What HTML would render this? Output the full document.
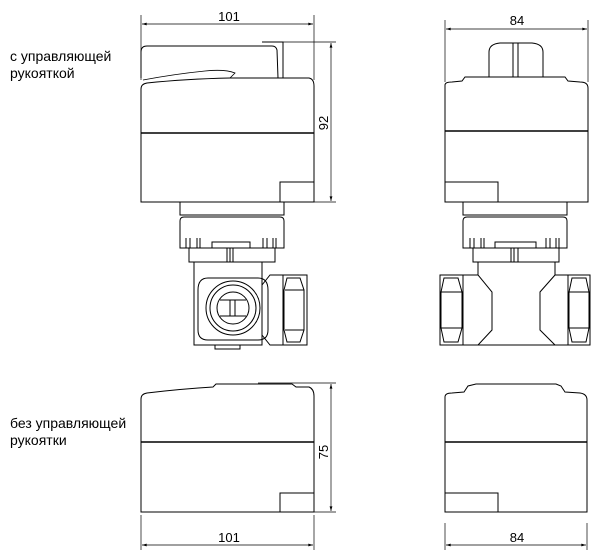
<!DOCTYPE html>
<html><head><meta charset="utf-8"><style>
html,body{margin:0;padding:0;background:#fff}
svg{display:block}
text{font-family:"Liberation Sans","DejaVu Sans",sans-serif;fill:#000}
</style></head><body>
<svg width="611" height="553" viewBox="0 0 611 553" xmlns="http://www.w3.org/2000/svg">
<defs>
<marker id="a" viewBox="0 0 10 6" refX="10" refY="3" markerWidth="7" markerHeight="4" orient="auto-start-reverse"><path d="M0,0 L10,3 L0,6z" fill="#000"/></marker>
</defs>
<g font-size="14">
<text x="10" y="61">с управляющей</text>
<text x="10" y="78">рукояткой</text>
<text x="10" y="428">без управляющей</text>
<text x="10" y="445">рукоятки</text>
</g>
<g fill="none" stroke="#000" stroke-width="1">
<line x1="141" y1="15" x2="141" y2="80" stroke-width="0.7"/>
<line x1="314" y1="15" x2="314" y2="80" stroke-width="0.7"/>
<line x1="142" y1="24" x2="313" y2="24" marker-start="url(#a)" marker-end="url(#a)" stroke-width="0.7"/>
<line x1="262" y1="42" x2="336" y2="42" stroke-width="0.7"/>
<line x1="314" y1="202" x2="336" y2="202" stroke-width="0.7"/>
<line x1="331" y1="43" x2="331" y2="201" marker-start="url(#a)" marker-end="url(#a)" stroke-width="0.7"/>
<path d="M141,78 V52 Q141,46 147,46 H272 Q276,46 277,50 L278,78"/>
<path d="M262,42 H283 V78"/>
<path d="M143,80 Q175,74 205,71 Q225,69 235,73 L230,78" stroke-width="0.8"/>
<path d="M141,202 V89 Q141,84 147,83 Q185,79 230,78 H309 Q314,79 314,86 V202 Z"/>
<line x1="141" y1="133" x2="314" y2="133" stroke-width="1.6"/>
<path d="M280,202 V182 H314"/>
<path d="M180,202 V215 H284 V202"/>
<path d="M180,248 V221 Q180,217 184,217 H280 Q284,217 284,221 V248 Z"/>
<path d="M186,248 V238 M190,248 V238 M197,248 V238 M200,248 V238 M263,248 V238 M267,248 V238 M273,248 V238 M276,248 V238"/>
<path d="M212,248 V242 H250 V248"/>
<rect x="189" y="248" width="86" height="14"/>
<path d="M227,248 V262 M230,248 V262 M233,248 V262"/>
<path d="M194,262 V345 H262 V262"/>
<path d="M262,285 L270,275 H283 M262,335 L270,345 H283"/>
<rect x="283" y="275" width="24" height="70"/>
<path d="M287,278 L300,278 L304,290 L304,330 L300,342 L287,342 L284,330 L284,290 Z"/>
<line x1="285" y1="290" x2="304" y2="290"/><line x1="285" y1="330" x2="304" y2="330"/>
<path d="M208,278 H258 Q268,278 268,290 V330 Q268,340 258,340 H208 Q198,340 198,330 V290 Q198,278 208,278 Z"/>
<circle cx="233" cy="308" r="27"/>
<circle cx="233" cy="308" r="23"/>
<circle cx="233" cy="308" r="16"/>
<path d="M220,300 H246 M220,316 H246 M230,300 V316 M235,300 V316"/>
<path d="M215,345 V349 H240 V345"/>
<line x1="445" y1="20" x2="445" y2="82" stroke-width="0.7"/>
<line x1="588" y1="20" x2="588" y2="82" stroke-width="0.7"/>
<line x1="446" y1="29" x2="587" y2="29" marker-start="url(#a)" marker-end="url(#a)" stroke-width="0.7"/>
<path d="M489,77 V52 Q489,44 500,43 H532 Q543,44 543,52 V77"/>
<path d="M513,43 V77 M518,43 V77"/>
<path d="M445,202 V85 Q445,82 452,82 L462,81 L465,77 H565 L568,81 L580,82 Q588,82 588,88 V202 Z"/>
<line x1="445" y1="131" x2="588" y2="131" stroke-width="1.6"/>
<path d="M445,182 H498 V202"/>
<path d="M463,202 V215 H567 V202"/>
<path d="M463,248 V221 Q463,217 467,217 H563 Q567,217 567,221 V248 Z"/>
<path d="M470,248 V238 M474,248 V238 M481,248 V238 M484,248 V238 M546,248 V238 M550,248 V238 M556,248 V238 M559,248 V238"/>
<path d="M495,248 V242 H536 V248"/>
<rect x="473" y="248" width="86" height="14"/>
<path d="M511,248 V262 M514,248 V262 M518,248 V262"/>
<path d="M478,262 V275 L492,292 V330 L478,345 H555 L540,330 V292 L555,275 V262"/>
<path d="M463,275 H478 M463,345 H478 M555,275 H568 M555,345 H568"/>
<rect x="440" y="275" width="23" height="70"/>
<rect x="568" y="275" width="22" height="70"/>
<path d="M444,278 H458 L462,292 V328 L458,342 H444 L441,328 V292 Z"/>
<path d="M572,278 H586 L589,292 V328 L586,342 H572 L569,328 V292 Z"/>
<path d="M441,292 H462 M441,328 H462 M569,292 H589 M569,328 H589"/>
<line x1="141" y1="515" x2="141" y2="550" stroke-width="0.7"/>
<line x1="314" y1="515" x2="314" y2="550" stroke-width="0.7"/>
<line x1="142" y1="545" x2="313" y2="545" marker-start="url(#a)" marker-end="url(#a)" stroke-width="0.7"/>
<line x1="258" y1="383" x2="336" y2="383" stroke-width="0.7"/>
<line x1="314" y1="512" x2="336" y2="512" stroke-width="0.7"/>
<line x1="331" y1="384" x2="331" y2="511" marker-start="url(#a)" marker-end="url(#a)" stroke-width="0.7"/>
<path d="M141,512 V399 Q141,394 147,393 Q180,389 213,387 L216,384 H292 L296,387 H309 Q314,389 314,396 V512 Z"/>
<line x1="141" y1="442" x2="314" y2="442" stroke-width="1.6"/>
<path d="M280,512 V493 H314"/>
<line x1="445" y1="523" x2="445" y2="550" stroke-width="0.7"/>
<line x1="587" y1="523" x2="587" y2="550" stroke-width="0.7"/>
<line x1="446" y1="545" x2="586" y2="545" marker-start="url(#a)" marker-end="url(#a)" stroke-width="0.7"/>
<path d="M445,512 V397 Q445,393 452,393 L464,392 L468,386 L476,384 H556 L561,386 L565,392 L580,393 Q587,394 587,400 V512 Z"/>
<line x1="445" y1="442" x2="587" y2="442" stroke-width="1.6"/>
<path d="M445,493 H498 V512"/>
</g>
<g font-size="13">
<text x="229" y="21" text-anchor="middle">101</text>
<text x="517" y="25" text-anchor="middle">84</text>
<text x="229" y="542" text-anchor="middle">101</text>
<text x="517" y="542" text-anchor="middle">84</text>
<text transform="translate(328,123) rotate(-90)" text-anchor="middle">92</text>
<text transform="translate(328,452) rotate(-90)" text-anchor="middle">75</text>
</g>
</svg>
</body></html>
